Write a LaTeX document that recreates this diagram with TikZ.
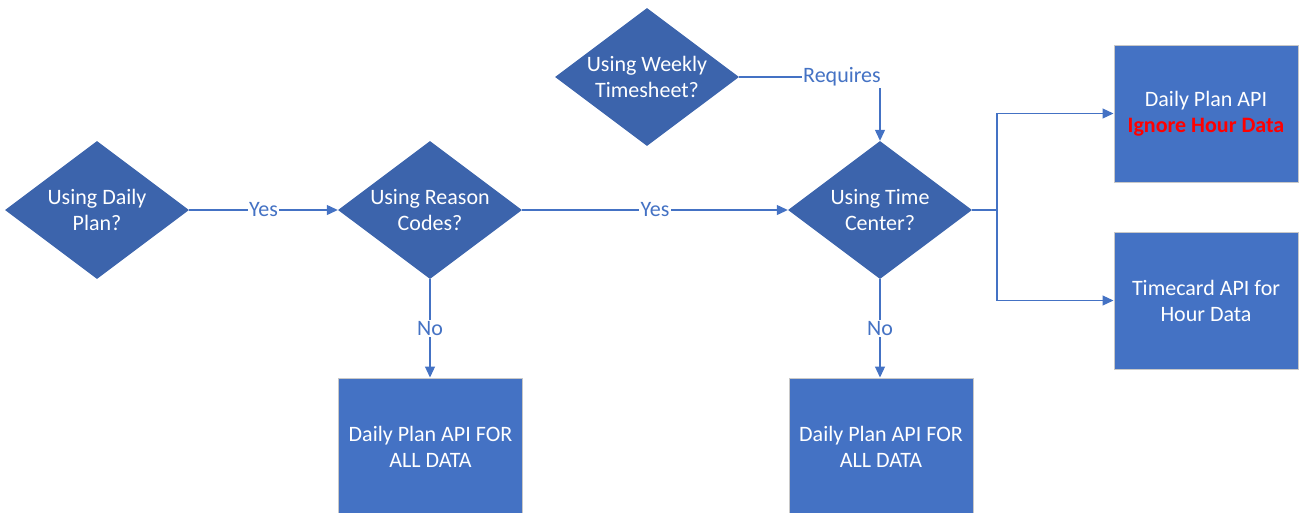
\documentclass[tikz,border=0pt]{standalone}
\usepackage{fontspec}
\setmainfont{Carlito}
\usetikzlibrary{shapes.geometric,arrows.meta}
\definecolor{diafill}{RGB}{60,100,172}
\definecolor{boxfill}{RGB}{68,114,196}
\definecolor{lineblue}{RGB}{68,114,196}
\definecolor{boxedge}{RGB}{200,200,200}
\definecolor{hotred}{RGB}{255,0,0}
\begin{document}
\begin{tikzpicture}[x=1pt,y=-1pt,
  dia/.style={diamond,fill=diafill,minimum width=184pt,minimum height=138pt,inner sep=0pt},
  txt/.style={text=white,align=center,font=\fontsize{22}{26.5}\selectfont,inner sep=0pt},
  apibox/.style={rectangle,fill=boxfill,draw=boxedge,line width=1pt,minimum width=184pt,minimum height=137pt,inner sep=0pt,text=white,align=center,font=\fontsize{22}{26}\selectfont},
  conn/.style={draw=lineblue,line width=1.2pt},
  arr/.style={conn,-{Triangle[length=11pt,width=10pt]}},
  lbl/.style={fill=white,text=lineblue,font=\fontsize{22}{24}\selectfont,inner sep=1.5pt}]
\useasboundingbox (0,0) rectangle (1302,512);
\clip (0,0) rectangle (1302,512);

% decisions
\node[dia] (d1) at (97,210) {};
\node[txt] (t1) at (d1) {Using Daily\\Plan?};
\node[dia] (d2) at (430,210) {};
\node[txt] (t2) at (d2) {Using Reason\\Codes?};
\node[dia] (d3) at (647,77) {};
\node[txt] (t3) at (d3) {Using Weekly\\Timesheet?};
\node[dia] (d4) at (880,210) {};
\node[txt] (t4) at (d4) {Using Time\\Center?};

% results
\node[apibox] (b1) at (430.5,446.5) {Daily Plan API FOR\\ALL DATA};
\node[apibox] (b2) at (881,446.5) {Daily Plan API FOR\\ALL DATA};
\node[apibox] (b3) at (1206,113.5) {Daily Plan API\\{\color{hotred}\bfseries Ignore Hour Data}};
\node[apibox] (b4) at (1206,300.5) {Timecard API for\\Hour Data};

% connectors
\draw[arr] (d1.east) -- node[lbl]{Yes} (d2.west);
\draw[arr] (d2.east) -- node[lbl]{Yes} (d4.west);
\draw[arr] (d2.south) -- node[lbl]{No} (b1.north -| d2.south);
\draw[arr] (d4.south) -- node[lbl]{No} (b2.north -| d4.south);
\draw[arr] (d3.east) -- node[lbl,pos=0.73]{Requires} (d3.east -| d4.north) -- (d4.north);
\coordinate (br) at (997,210);
\draw[conn] (d4.east) -- (br);
\draw[arr] (br) |- (b3.west);
\draw[arr] (br) |- (b4.west);
\end{tikzpicture}
\end{document}
